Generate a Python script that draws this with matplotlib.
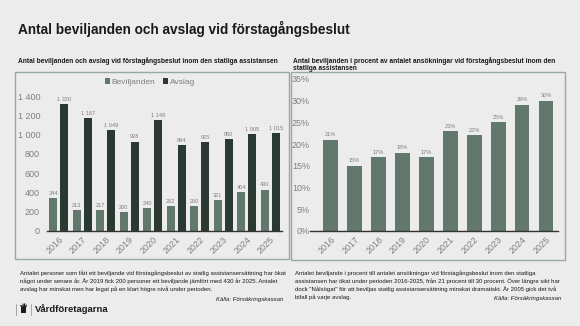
import matplotlib
matplotlib.use("Agg")
import matplotlib.pyplot as plt
from matplotlib.patches import Rectangle, Polygon
from matplotlib.lines import Line2D

plt.rcParams['font.family'] = ['Liberation Sans', 'DejaVu Sans']

years = ["2016", "2017", "2018", "2019", "2020", "2021", "2022", "2023", "2024", "2025"]
beviljanden = [344, 213, 217, 200, 240, 262, 260, 321, 404, 430]
avslag = [1320, 1167, 1049, 928, 1148, 894, 925, 950, 1005, 1015]
procent = [21, 15, 17, 18, 17, 23, 22, 25, 29, 30]
left_yticks = [0, 200, 400, 600, 800, 1000, 1200, 1400]
right_yticks = [0, 5, 10, 15, 20, 25, 30, 35]

BG = "#ececec"
GREEN = "#62786c"
DARK = "#2a3a33"
BORDER = "#98aa9f"
GRAY = "#7f7f7f"
TXT = "#1a1a1a"

W, H = 580, 326
fig = plt.figure(figsize=(W / 100, H / 100), dpi=100)
fig.patch.set_facecolor(BG)


def fx(x):
    return x / W


def fy(y):
    return 1 - y / H


def fmt_sp(v):
    return f"{v:,}".replace(",", " ")


# Title
fig.text(fx(18), fy(29), "Antal beviljanden och avslag vid förstagångsbeslut",
         fontsize=9.8, fontweight="bold", color=TXT, va="center", ha="left")

# Subtitles
fig.text(fx(18), fy(61), "Antal beviljanden och avslag vid förstagångsbeslut inom den statliga assistansen",
         fontsize=4.8, fontweight="bold", color=TXT, va="center", ha="left")
fig.text(fx(293), fy(61), "Antal beviljanden i procent av antalet ansökningar vid förstagångsbeslut inom den",
         fontsize=4.8, fontweight="bold", color=TXT, va="center", ha="left")
fig.text(fx(293), fy(68.5), "statliga assistansen",
         fontsize=4.8, fontweight="bold", color=TXT, va="center", ha="left")

# Panel boxes
for (x0, y0, x1, y1) in [(15, 72, 289, 259), (291, 72, 565, 260)]:
    fig.patches.append(Rectangle((fx(x0), fy(y1)), fx(x1) - fx(x0), fy(y0) - fy(y1),
                                 transform=fig.transFigure, fill=False,
                                 edgecolor=BORDER, linewidth=1.0))

# Left chart
axL = fig.add_axes([fx(47), fy(231), fx(282) - fx(47), fy(96) - fy(231)])
axL.set_facecolor("none")
n = len(years)
xs = list(range(n))
bw = 0.34
off = 0.23
b1 = axL.bar([x - off for x in xs], beviljanden, width=bw, color=GREEN, label="Beviljanden")
b2 = axL.bar([x + off for x in xs], avslag, width=bw, color=DARK, label="Avslag")
for x, v in zip(xs, beviljanden):
    axL.text(x - off, v + 22, fmt_sp(v), ha="center", va="bottom", fontsize=4.1, color=GRAY)
for x, v in zip(xs, avslag):
    axL.text(x + off, v + 22, fmt_sp(v), ha="center", va="bottom", fontsize=4.1, color=GRAY)
axL.set_xlim(-0.5, n - 0.5)
axL.set_ylim(0, 1400)
axL.set_yticks(left_yticks)
axL.set_yticklabels([fmt_sp(v) for v in left_yticks])
axL.set_xticks(xs)
axL.set_xticklabels(years, rotation=45, ha="right", rotation_mode="anchor")
for s in ["top", "right", "left"]:
    axL.spines[s].set_visible(False)
axL.spines["bottom"].set_color("#333333")
axL.spines["bottom"].set_linewidth(1.0)
axL.tick_params(axis="both", length=0, labelsize=6.5, labelcolor=GRAY)
axL.tick_params(axis="y", pad=5)
axL.tick_params(axis="x", pad=3)
axL.legend(handles=[b1, b2], loc="center", bbox_to_anchor=(fx(150), fy(82)),
           bbox_transform=fig.transFigure, ncol=2, frameon=False, fontsize=6,
           labelcolor=GRAY, handlelength=0.6, handleheight=0.6, handletextpad=0.2,
           columnspacing=1.0)

# Right chart
axR = fig.add_axes([fx(310), fy(231), fx(558) - fx(310), fy(79) - fy(231)])
axR.set_facecolor("none")
axR.bar(xs, procent, width=0.62, color=GREEN)
for x, v in zip(xs, procent):
    axR.text(x, v + 0.6, f"{v}%", ha="center", va="bottom", fontsize=4.1, color=GRAY)
axR.set_xlim(-0.85, n - 0.5)
axR.set_ylim(0, 35)
axR.set_yticks(right_yticks)
axR.set_yticklabels([f"{v}%" for v in right_yticks])
axR.set_xticks(xs)
axR.set_xticklabels(years, rotation=45, ha="right", rotation_mode="anchor")
for s in ["top", "right", "left"]:
    axR.spines[s].set_visible(False)
axR.spines["bottom"].set_color("#333333")
axR.spines["bottom"].set_linewidth(1.0)
axR.tick_params(axis="both", length=0, labelsize=6.5, labelcolor=GRAY)
axR.tick_params(axis="y", pad=0)
axR.tick_params(axis="x", pad=3)

# Captions (one text per line)
capL = ["Antalet personer som fått ett beviljande vid förstagångsbeslut av statlig assistansersättning har ökat",
        "något under senare år. År 2019 fick 200 personer ett beviljande jämfört med 430 år 2025. Antalet",
        "avslag har minskat men har legat på en klart högre nivå under perioden."]
capR = ["Antalet beviljande i procent till antalet ansökningar vid förstagångsbeslut inom den statliga",
        "assistansen har ökat under perioden 2016-2025, från 21 procent till 30 procent. Över längre sikt har",
        "dock \"Nålsögat\" för att beviljas statlig assistansersättning minskat dramatiskt. År 2005 gick det två",
        "bifall på varje avslag."]
line_y = [273, 281, 289, 297]
for line, y in zip(capL, line_y):
    fig.text(fx(20), fy(y), line, fontsize=4.3, color=TXT, va="center", ha="left")
for line, y in zip(capR, line_y):
    fig.text(fx(295), fy(y), line, fontsize=4.3, color=TXT, va="center", ha="left")
fig.text(fx(283), fy(299), "Källa: Försäkringskassan", fontsize=4.3, color=TXT, style="italic",
         va="center", ha="right")
fig.text(fx(561), fy(298.5), "Källa: Försäkringskassan", fontsize=4.3, color=TXT, style="italic",
         va="center", ha="right")

# Logo
fig.lines.append(Line2D([fx(15.5), fx(15.5)], [fy(304), fy(315)], transform=fig.transFigure,
                        color="#999999", linewidth=0.6))
# small hand-like icon drawn as a shape
icon = [(21, 313), (21, 307), (20, 305), (21.5, 305), (22.5, 307), (22.5, 303.5), (23.5, 303.5),
        (23.5, 306), (24.3, 303.3), (25.3, 303.3), (25, 306.5), (26, 304.5), (27, 304.8),
        (26, 308), (26, 313)]
fig.patches.append(Polygon([(fx(a), fy(b)) for a, b in icon], closed=True,
                           transform=fig.transFigure, facecolor=TXT, edgecolor="none"))
fig.lines.append(Line2D([fx(30.5), fx(30.5)], [fy(304), fy(315)], transform=fig.transFigure,
                        color="#999999", linewidth=0.6))
fig.text(fx(35), fy(309), "Vårdföretagarna", fontsize=6.8, fontweight="bold", color=TXT,
         va="center", ha="left")

fig.savefig("out.png", dpi=100, facecolor=BG)
